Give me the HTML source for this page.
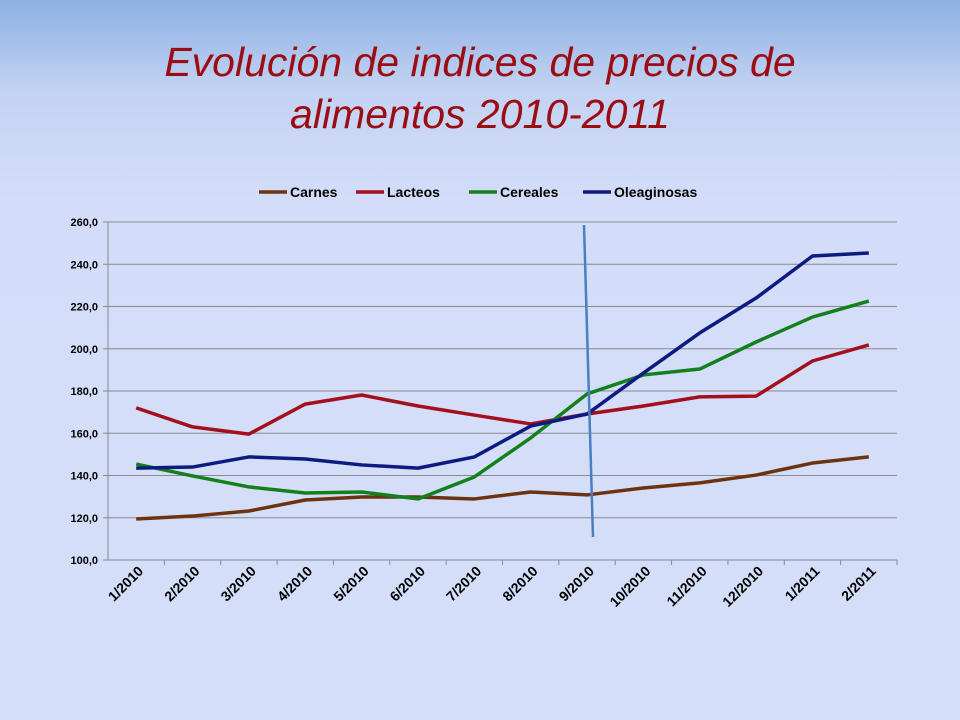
<!DOCTYPE html>
<html><head><meta charset="utf-8"><style>
body{margin:0;width:960px;height:720px;overflow:hidden;font-family:"Liberation Sans",sans-serif;background:linear-gradient(#8db0e3 0px,#c3d3f3 90px,#d3ddf9 200px,#d5dff9 720px);}
#t{position:absolute;left:0;top:36px;width:960px;text-align:center;color:#9b0d12;font-style:italic;font-size:41px;line-height:52px;}
svg{position:absolute;left:0;top:0}
</style></head><body>
<div id="t">Evolución de indices de precios de<br>alimentos 2010-2011</div>
<svg id="c" width="960" height="720"></svg>
<script>
const categories=["1/2010","2/2010","3/2010","4/2010","5/2010","6/2010","7/2010","8/2010","9/2010","10/2010","11/2010","12/2010","1/2011","2/2011"];
const seriesNames=["Carnes","Lacteos","Cereales","Oleaginosas"];
const carnes=[119.4,120.8,123.2,128.4,129.8,129.8,128.9,132.2,130.8,134.1,136.5,140.2,145.9,148.8];
const lacteos=[172,163,159.6,173.8,178.1,172.9,168.6,164.4,169.1,172.9,177.2,177.6,194.2,201.8];
const cereales=[145.4,139.8,134.6,131.7,132.2,128.9,139.3,157.8,178.6,187.6,190.4,203.2,215,222.6];
const oleaginosas=[143.5,144,148.8,147.8,145,143.5,148.8,163.4,169.1,188.5,207.5,224,243.9,245.3];
const yTicks=[100,120,140,160,180,200,220,240,260];
const colors=["#6b3410","#a30f1c","#13801d","#0d1a80"];
const NS="http://www.w3.org/2000/svg",svg=document.getElementById('c');
const X0=108,X1=897,Y0=560,Y1=222,ymin=100,ymax=260;
const bw=(X1-X0)/categories.length;
const x=i=>X0+bw*(i+0.5), y=v=>Y0-(v-ymin)/(ymax-ymin)*(Y0-Y1);
function mk(t,a){const e=document.createElementNS(NS,t);for(const k in a)e.setAttribute(k,a[k]);svg.appendChild(e);return e;}
yTicks.forEach(v=>{
 const g=mk('line',{x1:X0,x2:X1,y1:y(v),y2:y(v),stroke:'#8a8a8a','stroke-width':1});
 
 
 const tk=mk('line',{x1:X0-5,x2:X0,y1:y(v),y2:y(v),stroke:'#8a8a8a'});
 
 
 const t=mk('text',{x:X0-10,y:y(v)+4,'text-anchor':'end','font-size':11,'font-weight':'bold',fill:'#000'});
 t.textContent=v.toFixed(1).replace('.',',');
 
 
});
const ax=mk('line',{x1:X0,x2:X0,y1:Y1,y2:Y0,stroke:'#8a8a8a'});


categories.forEach((c,i)=>{
 const tk=mk('line',{x1:X0+bw*(i+1),x2:X0+bw*(i+1),y1:Y0,y2:Y0+5,stroke:'#8a8a8a'});
 
 
 const tx=x(i)+8,ty=Y0+12;
 const t=mk('text',{x:tx,y:ty,'text-anchor':'end','font-size':14,'font-weight':'bold',fill:'#000',transform:`rotate(-45 ${tx} ${ty})`});
 t.textContent=c;
 
 
});
[carnes,lacteos,cereales,oleaginosas].forEach((s,k)=>{
 const p=mk('polyline',{points:s.map((v,i)=>x(i)+','+y(v)).join(' '),fill:'none',stroke:colors[k],'stroke-width':3.5,'stroke-linejoin':'round'});
 
 
});
const vl=mk('line',{x1:584,y1:225,x2:593,y2:537,stroke:'#4a7fc0','stroke-width':2.5});


const lx=[259,356,469,583];
seriesNames.forEach((n,k)=>{
 const l=mk('line',{x1:lx[k],x2:lx[k]+28,y1:192,y2:192,stroke:colors[k],'stroke-width':3.5});
 
 
 const t=mk('text',{x:lx[k]+31,y:197,'font-size':14,'font-weight':'bold',fill:'#000'});
 t.textContent=n;
 
 
});
</script>
</body></html>
